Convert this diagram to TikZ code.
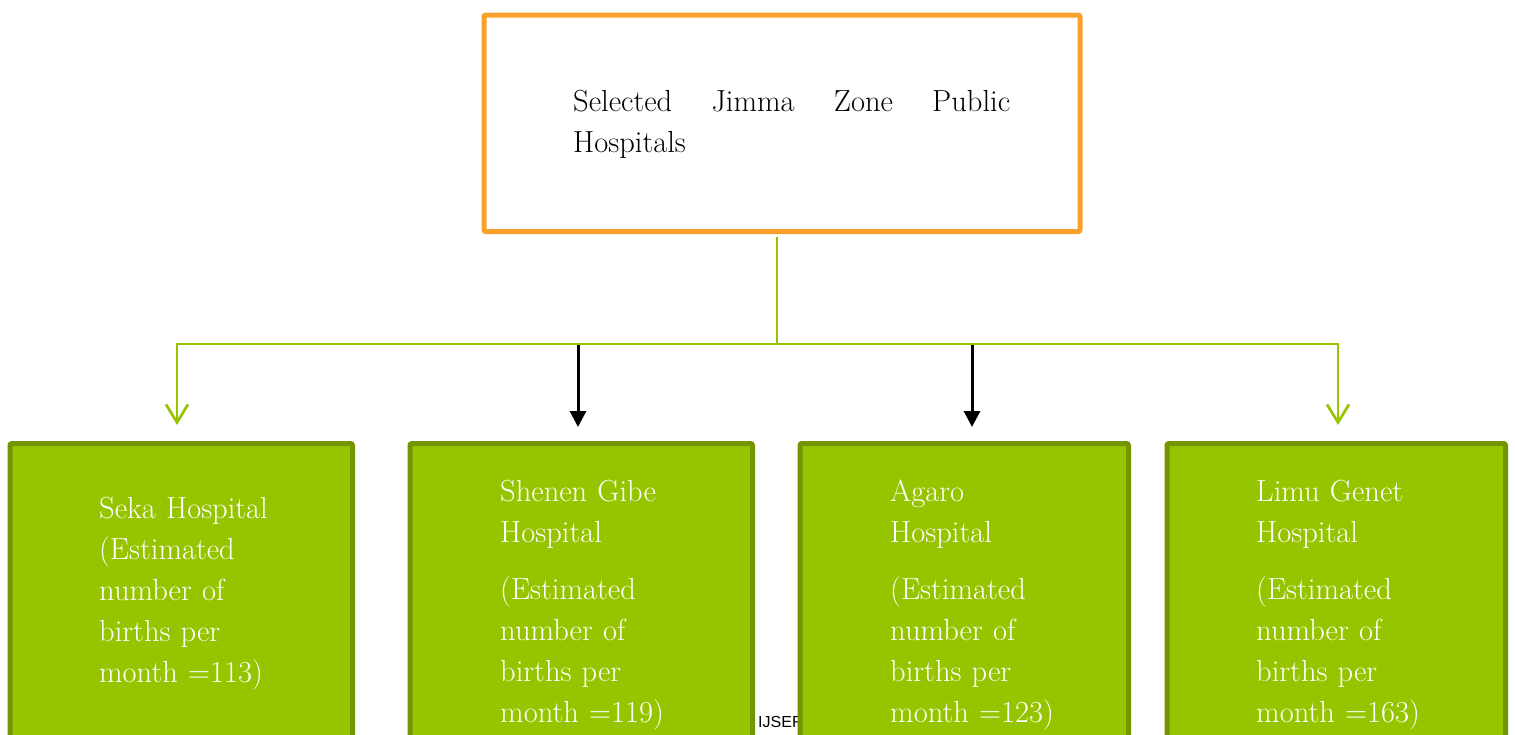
\documentclass[tikz,border=0pt]{standalone}
\usepackage{fontspec}
\newfontfamily\ijserfont{Liberation Sans}
\usetikzlibrary{arrows.meta}
\definecolor{orangeB}{RGB}{249,161,42}
\definecolor{greenF}{RGB}{150,197,0}
\definecolor{greenD}{RGB}{115,150,0}
\tikzset{
  obox/.style={draw=orangeB, line width=5pt, rounded corners=2pt, rectangle, inner sep=0pt},
  gbox/.style={draw=greenD, fill=greenF, line width=5pt, rounded corners=2pt, rectangle, inner sep=0pt},
  gtext/.style={anchor=north west, inner sep=0pt, text=white, text width=280pt, align=left, font=\fontsize{30.5}{41}\selectfont},
  ttext/.style={anchor=north west, inner sep=0pt, text=black, text width=437pt, align=justify, font=\fontsize{30.5}{41}\selectfont},
  gline/.style={draw=greenF, line width=2.7pt},
  bline/.style={draw=black, line width=3pt},
  garrow/.style={-{Straight Barb[length=18pt,width=22pt]}},
  barrow/.style={-{Triangle[length=16pt,width=16pt]}},
}
\begin{document}
\begin{tikzpicture}[x=1pt,y=-1pt]
\clip (0,0) rectangle (1515,734);
\fill[white] (0,0) rectangle (1515,734);

% top box
\node[obox, minimum width=596pt, minimum height=216.7pt] (top) at (782,123.35) {};
\node[ttext] (toptext) at (573,89) {\rule{0pt}{22pt}Selected\hfill Jimma\hfill Zone\hfill Public\\Hospitals};

% connector coordinates
\coordinate (j) at (777,344);
\coordinate (a1) at (177,425);
\coordinate (a4) at (1338,425);
\coordinate (k2) at (578,345);
\coordinate (a2) at (578,427);
\coordinate (k3) at (972,345);
\coordinate (a3) at (972,427);

\draw[bline, barrow] (k2) -- (a2);
\draw[bline, barrow] (k3) -- (a3);
\draw[gline, shorten <=2.5pt] (top.south -| j) -- (j);
\draw[gline, garrow] (j) -| (a1);
\draw[gline, garrow] (j) -| (a4);

% footer mark
\node[anchor=base west, inner sep=0pt, font=\ijserfont\fontsize{16}{16}\selectfont] (ijser) at (758,727) {IJSER};

% green boxes
\node[gbox, minimum width=342.5pt, minimum height=356.5pt] (b1) at (181.25,621.75) {};
\node[gbox, minimum width=342.5pt, minimum height=356.5pt] (b2) at (581.25,621.75) {};
\node[gbox, minimum width=328.5pt, minimum height=356.5pt] (b3) at (964.25,621.75) {};
\node[gbox, minimum width=338.5pt, minimum height=356.5pt] (b4) at (1336.25,621.75) {};

\node[gtext] (t1) at (99,496) {\rule{0pt}{22pt}Seka Hospital\\(Estimated\\number of\\births per\\month =113)};
\node[gtext] (t2) at (500,479) {\rule{0pt}{22pt}Shenen Gibe\\Hospital\\[16pt](Estimated\\number of\\births per\\month =119)};
\node[gtext] (t3) at (890,479) {\rule{0pt}{22pt}Agaro\\Hospital\\[16pt](Estimated\\number of\\births per\\month =123)};
\node[gtext] (t4) at (1256,479) {\rule{0pt}{22pt}Limu Genet\\Hospital\\[16pt](Estimated\\number of\\births per\\month =163)};
\end{tikzpicture}
\end{document}
